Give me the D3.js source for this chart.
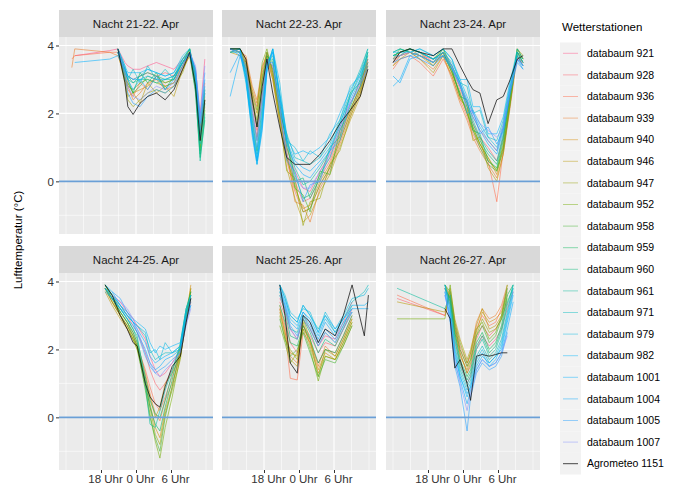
<!DOCTYPE html>
<html>
<head>
<meta charset="utf-8">
<script src="https://cdn.jsdelivr.net/npm/d3@7"></script>
<style>
  body { margin: 0; background: #fff; }
  text { font-family: "Liberation Sans", Arial, sans-serif; }
</style>
</head>
<body>
<svg id="chart"></svg>
<script>
// stations (legend order), last one is the reference station
const stations = ["databaum 921","databaum 928","databaum 936","databaum 939","databaum 940","databaum 946",
  "databaum 947","databaum 952","databaum 958","databaum 959","databaum 960","databaum 961","databaum 971",
  "databaum 979","databaum 982","databaum 1001","databaum 1004","databaum 1005","databaum 1007","Agrometeo 1151"];

const nights = ["Nacht 21-22. Apr","Nacht 22-23. Apr","Nacht 23-24. Apr","Nacht 24-25. Apr","Nacht 25-26. Apr","Nacht 26-27. Apr"];

// hour of the evening day (24 = midnight, 30 = 6 Uhr next morning)
const xTicks = [18, 24, 30];
const xTickLabels = ["18 Uhr", "0 Uhr", "6 Uhr"];
const yTicks = [0, 2, 4];

// night 21-22
const hours1 = [13.0,13.5,19.5,20.9,22.1,22.6,23.5,24.7,26.0,27.5,29.0,30.5,32.0,33.2,34.2,35.0,35.8];
const temps1 = [
  [null,3.7,3.85,3.9,3.5,3.4,3.3,3.3,3.4,3.5,3.4,3.3,3.6,3.8,3.3,2.0,3.6],
  [null,null,null,3.9,3.3,3.1,3.0,3.1,3.2,3.1,3.2,3.1,3.5,3.8,3.0,1.6,2.9],
  [3.6,3.7,3.8,3.8,3.0,2.7,2.5,2.9,2.7,3.1,2.8,2.9,3.4,3.8,3.1,1.4,2.6],
  [3.35,3.9,3.8,3.7,3.1,2.8,2.4,2.6,2.9,3.0,2.7,2.8,3.3,3.7,2.9,1.3,2.2],
  [null,null,null,3.8,3.2,2.9,2.6,2.7,2.8,3.1,2.9,3.0,3.4,3.8,3.2,1.5,2.5],
  [null,null,null,3.9,3.0,2.5,2.6,2.3,2.9,2.6,2.8,2.5,3.3,3.7,2.7,1.2,2.3],
  [null,null,null,3.8,2.9,2.4,2.2,2.4,2.6,2.7,2.6,2.8,3.2,3.8,3.0,1.4,2.7],
  [null,null,null,3.9,3.1,2.8,2.7,2.9,3.0,2.9,2.8,2.9,3.4,3.9,3.1,1.0,2.4],
  [null,null,null,3.9,3.0,2.9,2.6,2.8,3.1,3.0,2.9,3.0,3.5,3.9,2.8,0.9,2.1],
  [null,null,null,3.8,3.2,3.0,2.6,3.2,2.9,3.2,2.7,3.1,3.5,3.8,2.6,0.7,1.8],
  [null,null,null,3.9,3.3,3.1,2.9,3.1,3.2,3.1,3.0,3.1,3.6,3.9,2.9,0.8,2.0],
  [null,null,null,3.9,3.2,3.0,2.9,3.0,3.0,2.9,3.0,3.0,3.5,3.8,2.7,0.6,1.9],
  [null,null,null,3.9,3.4,3.0,3.3,2.9,3.4,3.0,3.3,3.0,3.6,3.9,3.2,1.1,2.3],
  [null,null,null,3.8,3.3,3.1,3.0,3.1,3.3,3.2,3.1,3.2,3.7,3.9,3.0,1.3,2.6],
  [null,null,null,3.9,3.4,3.2,3.2,3.2,3.3,3.2,3.1,3.2,3.6,3.8,3.3,1.7,2.8],
  [null,3.5,3.6,3.7,3.3,3.1,3.0,3.0,3.1,3.0,3.0,3.1,3.5,3.8,3.2,1.5,2.7],
  [null,null,null,3.8,3.3,3.0,2.7,3.0,2.7,3.1,2.7,3.0,3.5,3.7,3.1,1.8,3.0],
  [null,null,null,3.8,3.1,2.6,2.3,2.2,2.5,2.7,2.6,2.8,3.4,3.8,3.3,1.9,3.2],
  [null,null,null,3.9,3.2,2.8,2.5,2.4,2.6,2.8,2.7,2.9,3.4,3.8,3.4,1.8,3.4],
  [null,null,null,3.9,2.9,2.2,1.97,2.3,2.5,2.6,2.4,2.7,3.3,3.8,2.8,1.2,2.4]
];

// night 22-23
const hours2 = [12.2,13.9,14.9,16.0,16.8,17.7,18.5,19.5,20.7,21.9,23.3,24.7,25.9,27.6,29.3,31.0,32.8,34.5,35.8];
const temps2 = [
  [3.9,3.8,3.4,2.2,1.3,2.5,3.6,3.4,2.3,1.0,0.3,-0.2,-0.3,0.3,0.8,1.6,2.3,2.9,3.5],
  [3.9,3.9,3.5,2.5,1.5,2.8,3.7,3.3,2.1,0.8,0.0,-0.6,-0.5,0.1,0.6,1.4,2.1,2.8,3.6],
  [3.8,3.9,3.6,2.6,2.2,3.2,3.8,3.1,1.9,0.6,-0.3,-0.9,-0.8,-0.1,0.4,1.2,2.0,2.7,3.4],
  [3.9,3.8,3.7,2.8,2.4,3.4,3.7,3.0,1.8,0.9,-0.6,-0.7,-1.2,-0.2,0.3,1.1,1.9,2.6,3.5],
  [3.9,3.9,3.6,2.7,2.3,3.3,3.8,3.2,2.0,0.7,-0.2,-0.8,-0.7,0.0,0.5,1.3,2.1,2.8,3.6],
  [3.8,3.7,3.5,2.5,2.0,3.0,3.6,3.0,1.7,0.4,-0.5,-1.2,-1.0,-0.3,0.2,1.0,1.8,2.5,3.3],
  [3.9,3.8,3.4,2.4,1.8,3.1,3.7,3.1,1.8,0.3,0.1,-1.3,-0.6,-0.5,0.5,0.9,1.9,2.6,3.4],
  [3.9,3.9,3.5,2.6,2.1,3.5,3.9,3.2,2.0,0.7,-0.1,-0.9,-0.8,-0.1,0.4,1.2,2.0,2.7,3.5],
  [3.8,3.9,3.4,2.3,1.6,3.0,3.8,3.3,2.1,1.2,-0.2,-0.4,-0.9,0.3,0.2,1.5,2.1,2.8,3.7],
  [3.9,3.8,3.3,2.0,1.2,2.6,3.7,3.5,2.3,1.0,0.2,-0.5,-0.4,0.2,0.7,1.5,2.2,3.0,3.8],
  [3.9,3.9,3.2,1.8,0.9,2.2,3.6,3.6,2.0,1.4,0.0,0.1,-0.5,0.1,1.0,1.3,2.6,2.9,3.8],
  [3.8,3.8,3.1,1.7,0.8,2.0,3.5,3.7,2.5,1.2,0.4,-0.1,0.0,0.4,0.9,1.7,2.5,3.2,3.9],
  [3.9,3.9,3.0,1.5,0.6,1.8,3.4,3.9,2.6,1.4,0.7,0.6,0.5,0.7,1.1,1.8,2.6,3.3,3.9],
  [3.9,3.8,2.9,1.4,0.5,1.6,3.3,3.9,2.9,1.2,1.0,0.6,0.9,0.7,1.4,1.8,2.8,3.1,3.8],
  [3.8,3.9,3.0,1.6,0.7,1.9,3.5,3.8,2.6,1.3,0.8,0.9,0.8,1.0,1.3,2.0,2.7,3.2,3.7],
  [2.5,3.7,3.1,1.3,0.5,1.5,3.2,3.9,2.5,1.2,0.6,0.4,0.3,0.6,1.0,1.7,2.5,3.1,3.6],
  [3.2,3.8,3.2,1.5,0.6,1.7,3.3,3.8,2.4,1.1,0.5,0.2,0.1,0.5,0.9,1.6,2.4,3.0,3.5],
  [3.9,3.7,3.3,1.9,1.0,2.3,3.5,3.5,2.2,0.6,0.3,-0.6,-0.1,0.0,0.9,1.2,2.3,2.8,3.4],
  [3.9,3.8,3.4,2.1,1.2,2.4,3.6,3.4,2.1,0.8,0.1,-0.2,-0.2,0.3,0.7,1.5,2.3,2.9,3.3],
  [3.9,3.9,3.6,2.4,1.6,2.8,3.6,2.6,1.6,0.7,0.5,0.5,0.5,0.8,1.2,1.7,2.1,2.5,3.3]
];

// night 23-24
const hours3 = [12.0,13.2,14.9,16.6,18.9,20.6,22.1,23.5,24.7,25.7,26.9,28.3,29.8,30.9,32.1,33.3,34.3];
const temps3 = [
  [3.5,3.7,3.8,3.7,3.6,3.8,3.4,2.8,2.3,1.9,1.5,1.2,0.9,1.6,2.7,3.6,3.5],
  [3.6,3.8,3.9,3.8,3.5,3.7,3.3,2.7,2.2,1.7,1.3,1.0,0.6,1.3,2.5,3.7,3.4],
  [3.3,3.6,3.7,3.5,3.1,3.6,3.1,2.4,1.9,1.4,1.0,0.6,-0.6,0.9,2.3,3.8,3.6],
  [3.4,3.7,3.8,3.6,3.3,3.7,3.0,2.3,1.8,1.3,0.9,0.5,0.1,0.8,2.2,3.7,3.5],
  [3.5,3.8,3.9,3.7,3.4,3.8,3.2,2.5,2.0,1.5,1.1,0.7,0.2,1.0,2.4,3.9,3.6],
  [3.4,3.6,3.8,3.6,3.2,3.7,3.1,2.4,2.2,1.2,1.3,0.4,0.0,0.8,2.3,3.8,3.5],
  [3.6,3.7,3.9,3.8,3.4,3.8,3.2,2.6,2.0,1.6,1.1,0.7,0.3,1.1,2.5,3.9,3.7],
  [3.7,3.8,3.9,3.8,3.6,3.9,3.3,2.5,2.1,1.6,1.1,0.6,0.35,1.0,2.4,3.8,3.6],
  [3.6,3.9,3.8,3.7,3.5,3.8,3.2,2.6,2.0,1.5,1.0,0.5,0.3,0.9,2.3,3.9,3.6],
  [3.7,3.8,3.9,3.8,3.6,3.8,3.3,2.5,2.4,1.5,1.4,0.6,0.4,1.2,2.6,3.8,3.5],
  [3.8,3.9,3.8,3.7,3.5,3.9,3.4,2.8,2.2,1.7,1.2,0.8,0.5,1.3,2.6,3.7,3.4],
  [3.7,3.8,3.9,3.8,3.6,3.8,3.4,2.9,2.3,1.8,1.3,0.9,0.6,1.4,2.7,3.8,3.5],
  [3.8,3.9,3.8,3.9,3.7,3.9,3.6,2.9,2.8,2.0,2.1,1.3,1.2,1.8,2.9,3.9,3.6],
  [3.7,3.7,3.9,3.8,3.6,3.8,3.5,3.0,2.5,2.1,1.7,1.3,1.0,1.7,2.8,3.8,3.5],
  [3.8,3.8,3.8,3.9,3.7,3.9,3.6,3.0,3.0,2.2,2.2,1.4,1.4,1.9,3.0,3.7,3.4],
  [2.8,3.0,3.7,3.8,3.6,3.7,3.4,2.9,2.4,2.0,1.6,1.2,0.9,1.6,2.8,3.6,3.3],
  [3.1,2.9,3.6,3.7,3.5,3.7,3.3,2.8,2.3,1.9,1.5,1.1,0.8,1.5,2.7,3.6,3.4],
  [3.5,3.6,3.7,3.6,3.4,3.7,3.3,2.9,2.0,2.1,1.4,1.6,1.1,1.5,2.6,3.5,3.3],
  [3.6,3.7,3.8,3.7,3.5,3.8,3.4,2.8,2.4,2.0,1.7,1.5,1.3,1.6,2.7,3.6,3.4],
  [3.5,3.8,3.9,3.8,3.7,3.9,3.9,3.4,3.0,2.7,2.6,1.7,2.4,2.5,3.0,3.6,3.7]
];

// night 24-25
const hours4 = [18.7,19.9,21.3,22.5,23.5,24.2,25.6,26.4,27.3,28.1,29.0,30.2,31.6,32.6,33.4];
const temps4 = [
  [null,3.6,3.4,3.1,2.9,2.7,2.3,1.8,1.4,1.2,1.3,1.6,2.0,2.9,3.5],
  [null,3.5,3.3,3.0,2.7,2.5,1.9,1.4,1.0,0.8,1.0,1.4,1.9,2.8,3.4],
  [3.8,3.4,3.0,2.7,2.4,2.1,1.4,0.9,0.4,0.2,0.6,1.2,1.9,3.0,3.7],
  [3.9,3.5,3.1,2.8,2.5,2.2,1.3,0.7,0.1,-0.1,0.5,1.0,1.8,2.9,3.8],
  [3.8,3.4,3.0,2.6,2.3,2.1,1.1,0.4,-0.3,-0.6,0.2,0.9,1.9,3.0,3.9],
  [3.7,3.3,2.9,2.6,2.3,2.0,1.2,0.6,0.0,0.3,1.0,1.3,1.8,2.8,3.6],
  [3.9,3.5,3.0,2.7,2.4,2.1,1.0,0.3,-0.5,-0.8,0.1,0.8,1.7,2.9,3.8],
  [3.8,3.4,3.0,2.7,2.3,2.0,0.9,0.1,-0.7,-1.2,-0.3,0.6,1.8,3.0,3.7],
  [3.9,3.6,3.1,2.8,2.4,2.1,0.8,0.0,-0.6,-1.0,0.0,0.9,2.0,3.1,3.6],
  [3.8,3.5,3.1,2.8,2.5,2.2,1.0,0.3,-0.2,-0.4,0.3,1.1,2.1,3.2,3.7],
  [3.9,3.6,3.2,2.9,2.6,2.3,1.2,0.5,0.1,0.0,0.5,1.3,2.2,3.2,3.6],
  [3.8,3.5,3.2,2.9,2.6,2.4,1.0,-0.2,-0.3,0.2,0.8,1.4,2.1,3.1,3.5],
  [3.9,3.6,3.3,3.0,2.8,2.7,2.4,2.0,1.7,1.8,1.9,1.9,2.0,3.0,3.6],
  [3.8,3.5,3.2,3.0,2.8,2.7,2.5,1.9,2.0,1.7,2.2,1.9,2.1,3.1,3.5],
  [3.9,3.7,3.3,3.1,2.9,2.8,2.6,2.2,1.9,2.1,2.0,2.1,2.2,3.2,3.6],
  [3.8,3.6,3.3,3.0,2.8,2.6,2.2,1.8,1.6,1.7,1.8,1.9,2.1,3.0,3.4],
  [3.7,3.5,3.2,2.9,2.7,2.5,2.0,1.6,1.4,1.5,1.7,1.8,2.0,2.9,3.3],
  [null,3.7,3.5,3.1,2.8,2.5,1.8,1.5,1.3,1.4,1.5,1.7,1.9,2.8,3.3],
  [null,3.6,3.4,3.2,2.9,2.6,1.9,1.6,1.3,1.2,1.4,1.6,1.9,2.7,3.2],
  [3.9,3.6,3.0,2.6,2.2,2.1,1.0,0.6,0.4,0.3,0.9,1.5,1.8,2.8,3.5]
];

// night 25-26
const hours5 = [20.7,21.6,22.5,23.7,24.7,25.9,27.3,28.5,30.2,31.6,33.1,35.2,35.9];
const temps5 = [
  [3.5,3.2,2.6,2.3,2.9,2.6,2.1,2.4,2.3,2.8,3.4,null,null],
  [3.4,3.0,2.2,1.9,2.7,2.4,1.9,2.2,2.1,2.6,3.2,null,null],
  [3.2,2.6,1.15,1.1,2.5,2.2,1.6,2.0,1.9,2.4,3.0,null,null],
  [3.3,2.7,1.8,1.6,2.6,2.3,1.5,2.1,1.8,2.3,2.9,null,null],
  [3.1,2.5,1.9,1.8,2.7,2.2,1.4,1.9,1.7,2.2,2.8,null,null],
  [3.2,2.4,1.7,1.5,2.8,2.1,1.3,1.8,1.7,2.1,2.7,null,null],
  [3.0,2.3,2.0,1.7,2.9,2.3,1.2,2.0,1.8,2.3,2.9,null,null],
  [2.7,2.2,1.6,1.9,2.6,2.0,1.07,1.8,1.7,2.2,2.8,null,null],
  [2.9,2.3,1.8,2.0,2.5,1.9,1.2,1.7,1.6,2.1,2.7,null,null],
  [3.3,2.8,2.2,2.1,2.7,2.3,1.6,2.0,1.9,2.4,3.0,null,null],
  [3.6,3.1,2.4,2.3,2.9,2.5,1.9,2.3,2.1,2.6,3.1,null,null],
  [3.7,3.2,2.6,2.5,3.0,2.6,2.1,2.5,2.2,2.7,3.3,null,null],
  [3.9,3.5,3.0,2.8,3.3,3.0,2.6,3.0,2.5,2.9,3.4,3.7,3.9],
  [3.9,3.6,3.1,2.9,3.2,3.1,2.5,3.1,2.6,3.0,3.5,3.6,3.8],
  [3.8,3.4,2.9,2.7,3.1,2.9,2.4,2.9,2.5,2.9,3.3,3.3,3.4],
  [3.9,3.5,3.0,2.8,3.3,3.0,2.5,3.0,2.6,2.9,3.2,3.2,3.2],
  [3.8,3.3,2.8,2.6,3.1,2.8,2.3,2.8,2.4,2.8,3.1,null,null],
  [3.7,3.3,2.7,2.4,3.0,2.7,2.2,2.6,2.3,2.7,3.2,null,null],
  [3.6,3.2,2.6,2.3,2.9,2.6,2.1,2.5,2.2,2.6,3.1,null,null],
  [3.9,3.0,1.6,1.3,3.0,2.8,2.2,2.6,2.4,3.0,3.9,2.4,3.6]
];

// night 26-27
const hours6 = [12.7,20.9,21.8,22.6,23.5,24.7,25.3,26.3,27.3,28.5,29.6,30.6,31.6,32.6];
const temps6 = [
  [null,3.8,3.3,2.2,1.6,1.0,1.2,2.0,2.4,2.1,2.3,2.6,3.2,3.7],
  [3.5,3.0,3.6,2.6,1.9,1.3,1.5,2.3,2.7,2.4,2.6,2.9,3.4,null],
  [3.6,3.0,3.7,2.8,2.1,1.6,1.8,2.6,3.0,2.7,2.8,3.2,3.8,null],
  [null,3.9,3.5,2.7,2.0,1.5,1.9,2.8,3.2,2.9,3.0,3.3,3.9,null],
  [null,3.8,3.4,2.5,1.8,1.4,1.7,2.5,3.1,2.8,2.9,3.1,3.7,null],
  [3.4,3.1,3.8,2.9,2.3,1.7,2.0,2.7,3.2,2.6,2.7,3.0,3.6,null],
  [null,3.9,3.6,2.6,1.9,1.3,1.6,2.4,2.9,2.5,2.6,2.9,3.5,null],
  [2.9,2.9,3.9,2.8,2.2,1.6,1.9,2.6,2.8,2.3,2.5,3.0,3.9,null],
  [null,3.9,3.7,2.7,2.0,1.5,1.7,2.4,2.7,2.2,2.4,2.9,3.8,null],
  [null,3.8,3.5,2.5,1.7,1.2,1.4,2.2,2.5,2.0,2.2,2.7,3.6,3.9],
  [null,3.9,3.4,2.4,1.6,1.1,1.3,2.1,2.4,1.9,2.1,2.6,3.4,3.8],
  [3.8,3.2,3.6,2.3,1.5,1.0,1.2,2.0,2.3,1.8,2.0,2.5,3.3,3.9],
  [null,3.9,3.3,2.1,1.4,0.9,1.1,1.8,2.1,1.7,1.9,2.3,3.1,3.9],
  [null,3.8,3.2,2.0,1.3,0.8,1.0,1.7,2.0,1.6,1.8,2.2,3.0,3.8],
  [null,3.9,3.1,1.9,1.2,0.7,0.9,1.6,1.9,1.5,1.7,2.1,2.9,3.7],
  [null,3.7,3.0,1.8,1.2,0.6,0.9,1.5,1.8,1.6,1.8,2.0,2.8,3.6],
  [null,3.6,2.9,1.6,1.1,0.4,0.8,1.4,1.7,1.5,1.6,1.9,2.6,3.4],
  [null,3.7,2.8,1.5,0.9,-0.4,0.6,1.3,1.6,1.4,1.5,1.8,2.5,null],
  [null,3.6,2.9,1.7,1.0,0.2,0.7,1.4,1.7,1.5,1.6,1.9,2.4,null],
  [null,3.2,2.9,1.45,1.7,1.0,0.5,1.8,1.85,1.8,1.85,1.9,1.9,null]
];

const hoursByNight = [hours1, hours2, hours3, hours4, hours5, hours6];
const tempsByNight = [temps1, temps2, temps3, temps4, temps5, temps6];

let width = 681, height = 490,
    panelW = 154, panelH = 197, stripH = 27,
    colX = [59, 222, 386], rowY = [37, 273];

let svg = d3.select("#chart").attr("width", width).attr("height", height);

let xScale = d3.scaleLinear().domain([10.8, 37.2]).range([0, panelW]),
    yScale = d3.scaleLinear().domain([-1.55, 4.25]).range([panelH, 0]),
    colorScale = d3.scaleOrdinal().domain(stations)
      .range(stations.map((s, i) => i == stations.length - 1 ? "#111" : d3.hcl(10 + 15.5 * i, 75, 64).formatHex()));

let line = d3.line()
    .defined(d => d[1] != null)
    .x(d => xScale(d[0]))
    .y(d => yScale(d[1]));

nights.forEach((night, n) => {
  let col = n % 3, row = Math.floor(n / 3),
      g = svg.append("g").attr("transform", `translate(${colX[col]},${rowY[row]})`);

  // strip
  g.append("rect").attr("x", 0).attr("y", -stripH).attr("width", panelW).attr("height", stripH).attr("fill", "#D9D9D9");
  g.append("text").attr("x", panelW / 2).attr("y", -stripH / 2).attr("dy", "0.35em")
    .attr("text-anchor", "middle").attr("font-size", "11.5px").attr("fill", "#1A1A1A").text(night);

  // panel + grid
  g.append("rect").attr("width", panelW).attr("height", panelH).attr("fill", "#EBEBEB");
  g.selectAll(".ymin").data([-1, 1, 3]).enter().append("line")
    .attr("x1", 0).attr("x2", panelW).attr("y1", d => yScale(d)).attr("y2", d => yScale(d))
    .attr("stroke", "#fff").attr("stroke-width", 0.55);
  g.selectAll(".xmin").data([12, 15, 21, 27, 33, 36]).enter().append("line")
    .attr("y1", 0).attr("y2", panelH).attr("x1", d => xScale(d)).attr("x2", d => xScale(d))
    .attr("stroke", "#fff").attr("stroke-width", 0.55);
  g.selectAll(".ymaj").data(yTicks).enter().append("line")
    .attr("x1", 0).attr("x2", panelW).attr("y1", d => yScale(d)).attr("y2", d => yScale(d))
    .attr("stroke", "#fff").attr("stroke-width", 1.1);
  g.selectAll(".xmaj").data(xTicks).enter().append("line")
    .attr("y1", 0).attr("y2", panelH).attr("x1", d => xScale(d)).attr("x2", d => xScale(d))
    .attr("stroke", "#fff").attr("stroke-width", 1.1);

  // station lines
  let hrs = hoursByNight[n];
  g.selectAll("path.station")
    .data(tempsByNight[n].map((vals, i) => ({ name: stations[i], pts: vals.map((v, k) => [hrs[k], v]) })))
    .enter().append("path")
    .attr("class", "station")
    .attr("d", d => line(d.pts))
    .attr("fill", "none")
    .attr("stroke", d => colorScale(d.name))
    .attr("stroke-width", d => d.name.startsWith("Agro") ? 0.9 : 0.8)
    .attr("stroke-opacity", d => d.name.startsWith("Agro") ? 0.85 : 0.7);

  // freezing line
  g.append("line").attr("x1", 0).attr("x2", panelW).attr("y1", yScale(0)).attr("y2", yScale(0))
    .attr("stroke", "#6A9FD6").attr("stroke-width", 1.6);

  // axes
  if (col == 0) {
    let ya = g.append("g").call(d3.axisLeft(yScale).tickValues(yTicks).tickFormat(d3.format("d")).tickSize(3).tickPadding(2));
    ya.select(".domain").remove();
    ya.selectAll("line").attr("stroke", "#333");
    ya.selectAll("text").attr("font-size", "11.5px").attr("fill", "#333").attr("font-family", null);
  }
  if (row == 1) {
    let xa = g.append("g").attr("transform", `translate(0,${panelH})`)
      .call(d3.axisBottom(xScale).tickValues(xTicks).tickFormat((d, i) => xTickLabels[i]).tickSize(3).tickPadding(2));
    xa.select(".domain").remove();
    xa.selectAll("line").attr("stroke", "#333");
    xa.selectAll("text").attr("font-size", "11.5px").attr("fill", "#333").attr("dx", "4px").attr("font-family", null);
  }
});

// y axis title
svg.append("text")
  .attr("transform", `translate(18,${(rowY[0] - stripH + rowY[1] + panelH) / 2}) rotate(-90)`)
  .attr("text-anchor", "middle").attr("dy", "0.35em")
  .attr("font-size", "11.5px").attr("fill", "#000")
  .text("Lufttemperatur (°C)");

// legend
let legend = svg.append("g").attr("transform", "translate(560,0)"),
    keyW = 21, keyH = 21.6, legTop = 42.5;

legend.append("text").attr("x", 2).attr("y", 31).attr("font-size", "11.5px").attr("fill", "#000").text("Wetterstationen");

let item = legend.selectAll("g.item").data(stations).enter().append("g")
  .attr("class", "item")
  .attr("transform", (d, i) => `translate(0,${legTop + i * keyH})`);

item.append("rect").attr("width", keyW).attr("height", keyH).attr("fill", "#F2F2F2");
item.append("line").attr("x1", 3).attr("x2", keyW - 3).attr("y1", keyH / 2).attr("y2", keyH / 2)
  .attr("stroke", d => colorScale(d)).attr("stroke-width", 0.9)
  .attr("stroke-opacity", d => d.startsWith("Agro") ? 0.85 : 0.5);
item.append("text").attr("x", keyW + 6).attr("y", keyH / 2).attr("dy", "0.35em")
  .attr("font-size", "10.5px").attr("fill", "#000").text(d => d);
</script>
</body>
</html>
